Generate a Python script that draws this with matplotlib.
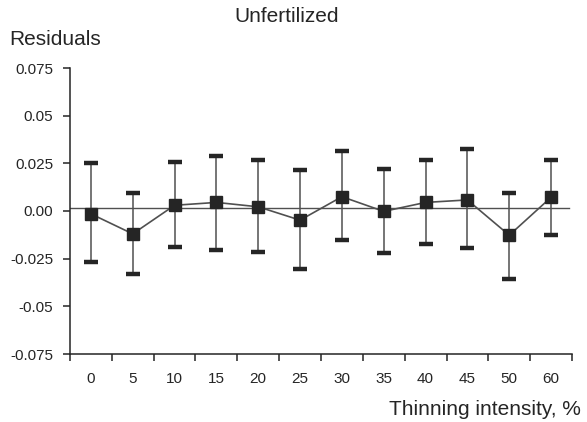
import matplotlib.pyplot as plt
import numpy as np

plt.rcParams['font.family'] = ['Liberation Sans', 'DejaVu Sans']

# thinning intensity categories (%)
labels = ['0', '5', '10', '15', '20', '25', '30', '35', '40', '45', '50', '60']
# mean residuals and the upper / lower ends of the bars
mean = [-0.0015, -0.012, 0.003, 0.0045, 0.0022, -0.0048, 0.0075, -0.0002, 0.0045, 0.0058, -0.0127, 0.0072]
upper = [0.0254, 0.0093, 0.0258, 0.029, 0.0268, 0.0217, 0.0316, 0.022, 0.0265, 0.0326, 0.0096, 0.0267]
lower = [-0.0267, -0.033, -0.0188, -0.0202, -0.0214, -0.0302, -0.0154, -0.0218, -0.0174, -0.0195, -0.0358, -0.0126]
yticks = [-0.075, -0.05, -0.025, 0.0, 0.025, 0.05, 0.075]
ytick_labels = ['-0.075', '-0.05', '-0.025', '0.00', '0.025', '0.05', '0.075']

ink = '#252525'
grey = '#505050'
x = np.arange(len(labels))
mean = np.array(mean)
err = [mean - np.array(lower), np.array(upper) - mean]

fig = plt.figure(figsize=(5.87, 4.22), dpi=100)
ax = fig.add_axes([70 / 587, 68 / 422, 502 / 587, 286 / 422])

ax.axhline(0.0015, xmin=0, xmax=0.995, color=grey, lw=1.0, zorder=1)
# thin whiskers, then heavy dark caps on top
ax.errorbar(x, mean, yerr=err, fmt='none', ecolor=grey, elinewidth=1.1, capsize=0, zorder=2)
eb = ax.errorbar(x, mean, yerr=err, fmt='none', ecolor=ink, elinewidth=0,
                 capsize=4.8, capthick=3.2, zorder=3)
ax.plot(x, mean, color=grey, lw=1.2, zorder=3)
ax.plot(x, mean, ls='none', marker='s', ms=8, color=ink, mec=ink, zorder=4)

ax.set_xlim(-0.5, len(labels) - 0.5)
ax.set_ylim(-0.075, 0.075)

ax.set_xticks(np.arange(len(labels) + 1) - 0.5)
ax.set_xticklabels([])
ax.set_xticks(x, minor=True)
ax.set_xticklabels(labels, minor=True, fontsize=11, color=ink)
ax.tick_params(axis='x', which='major', direction='out', length=5, width=1.1, color=ink)
ax.tick_params(axis='x', which='minor', length=0, pad=13)

ax.set_yticks(yticks)
ax.set_yticklabels(ytick_labels, fontsize=11, color=ink)
ax.tick_params(axis='y', direction='out', length=5, width=1.1, color=ink, pad=7)

for s in ['top', 'right']:
    ax.spines[s].set_visible(False)
for s in ['left', 'bottom']:
    ax.spines[s].set_color(ink)
    ax.spines[s].set_linewidth(1.1)

fig.text(287 / 587, 1 - 22 / 422, 'Unfertilized', ha='center', va='baseline', fontsize=15, color=ink)
fig.text(9 / 587, 1 - 45 / 422, 'Residuals', ha='left', va='baseline', fontsize=15, color=ink)
fig.text(581 / 587, 1 - 415 / 422, 'Thinning intensity, %', ha='right', va='baseline', fontsize=15, color=ink)

fig.savefig('out.png', dpi=100)
